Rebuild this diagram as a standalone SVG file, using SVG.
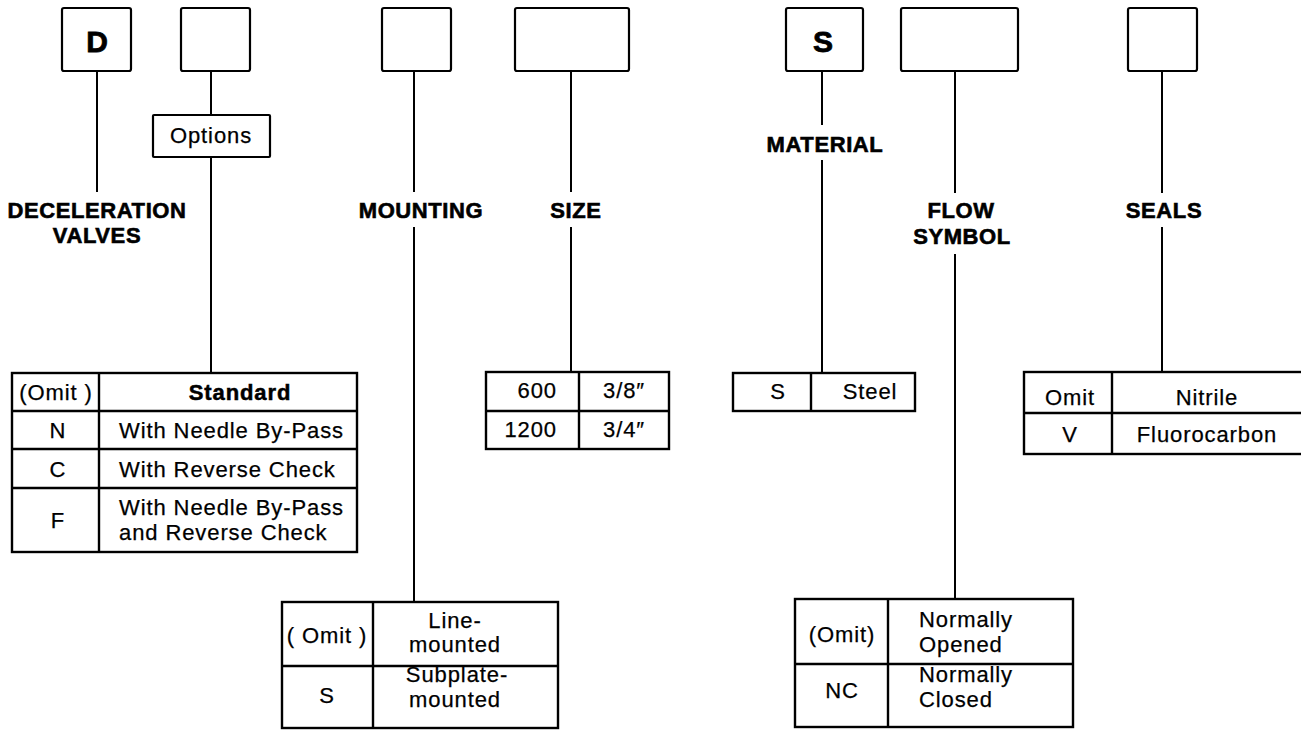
<svg xmlns="http://www.w3.org/2000/svg" width="1301" height="730" viewBox="0 0 1301 730">
<style>
.bx{fill:#fff;stroke:#000;stroke-width:2.2}
.ln{fill:none;stroke:#000;stroke-width:2}
.tb{fill:none;stroke:#000;stroke-width:2.4}
text{font-family:"Liberation Sans",Arial,sans-serif;fill:#000;stroke:#000;stroke-width:0.25}
.lab{font-size:22px;font-weight:bold;letter-spacing:0.6px;text-anchor:middle;stroke-width:0.6}
.big{font-size:30px;font-weight:bold;text-anchor:middle;stroke-width:0.8}
.t{font-size:22px;letter-spacing:0.9px}
.c{text-anchor:middle}
.e{text-anchor:end}
.b{font-weight:bold}
</style>
<rect width="1301" height="730" fill="#fff"/>
<g id="connectors">
<line class="ln" x1="97" y1="71" x2="97" y2="192"/>
<line class="ln" x1="211" y1="71" x2="211" y2="115"/>
<line class="ln" x1="211" y1="157" x2="211" y2="373"/>
<line class="ln" x1="414" y1="71" x2="414" y2="192"/>
<line class="ln" x1="414" y1="227" x2="414" y2="602"/>
<line class="ln" x1="571" y1="71" x2="571" y2="192"/>
<line class="ln" x1="571" y1="227" x2="571" y2="372"/>
<line class="ln" x1="822" y1="71" x2="822" y2="125"/>
<line class="ln" x1="822" y1="160" x2="822" y2="373"/>
<line class="ln" x1="955" y1="71" x2="955" y2="193"/>
<line class="ln" x1="955" y1="254" x2="955" y2="599"/>
<line class="ln" x1="1162" y1="71" x2="1162" y2="193"/>
<line class="ln" x1="1162" y1="227" x2="1162" y2="372"/>
</g>
<g id="box-d">
<rect class="bx" x="62" y="8" width="69" height="63" rx="2"/>
<text class="big" x="97" y="52">D</text>
</g>
<g id="box-options-code">
<rect class="bx" x="181" y="8" width="69" height="63" rx="2"/>
</g>
<g id="box-mounting">
<rect class="bx" x="382" y="8" width="69" height="63" rx="2"/>
</g>
<g id="box-size">
<rect class="bx" x="515" y="8" width="114" height="63" rx="2"/>
</g>
<g id="box-s">
<rect class="bx" x="786" y="8" width="77" height="63" rx="2"/>
<text class="big" x="823" y="52">S</text>
</g>
<g id="box-flow">
<rect class="bx" x="901" y="8" width="117" height="63" rx="2"/>
</g>
<g id="box-seals">
<rect class="bx" x="1128" y="8" width="69" height="63" rx="2"/>
</g>
<g id="options">
<rect class="bx" x="153" y="115" width="117" height="42" rx="1"/>
<text class="t c" x="211" y="143">Options</text>
</g>
<g id="labels">
<text class="lab" x="97" y="218">DECELERATION</text>
<text class="lab" x="97" y="243">VALVES</text>
<text class="lab" x="421" y="218">MOUNTING</text>
<text class="lab" x="576" y="218">SIZE</text>
<text class="lab" x="825" y="152">MATERIAL</text>
<text class="lab" x="961" y="218">FLOW</text>
<text class="lab" x="962" y="244">SYMBOL</text>
<text class="lab" x="1164" y="218">SEALS</text>
</g>
<g id="table-options">
<rect class="tb" x="12" y="373" width="345" height="179"/>
<line class="tb" x1="99" y1="373" x2="99" y2="552"/>
<line class="tb" x1="12" y1="411" x2="357" y2="411"/>
<line class="tb" x1="12" y1="449" x2="357" y2="449"/>
<line class="tb" x1="12" y1="488" x2="357" y2="488"/>
<text class="t c" x="56" y="400">(Omit )</text>
<text class="t c b" x="240" y="400" style="stroke-width:0.5">Standard</text>
<text class="t c" x="58" y="438">N</text>
<text class="t" x="119" y="438">With Needle By-Pass</text>
<text class="t c" x="58" y="477">C</text>
<text class="t" x="119" y="477">With Reverse Check</text>
<text class="t c" x="58" y="528">F</text>
<text class="t" x="119" y="515">With Needle By-Pass</text>
<text class="t" x="119" y="540">and Reverse Check</text>
</g>
<g id="table-size">
<rect class="tb" x="486" y="372" width="183" height="77"/>
<line class="tb" x1="579" y1="372" x2="579" y2="449"/>
<line class="tb" x1="486" y1="411" x2="669" y2="411"/>
<text class="t e" x="557" y="398">600</text>
<text class="t c" x="624" y="398">3/8″</text>
<text class="t e" x="557" y="437">1200</text>
<text class="t c" x="624" y="437">3/4″</text>
</g>
<g id="table-material">
<rect class="tb" x="733" y="373" width="182" height="38"/>
<line class="tb" x1="811" y1="373" x2="811" y2="411"/>
<text class="t c" x="778" y="399">S</text>
<text class="t c" x="870" y="399">Steel</text>
</g>
<g id="table-seals">
<rect class="tb" x="1024" y="372" width="290" height="82"/>
<line class="tb" x1="1112" y1="372" x2="1112" y2="454"/>
<line class="tb" x1="1024" y1="413" x2="1314" y2="413"/>
<text class="t c" x="1070" y="405">Omit</text>
<text class="t c" x="1207" y="405">Nitrile</text>
<text class="t c" x="1070" y="442">V</text>
<text class="t c" x="1207" y="442">Fluorocarbon</text>
</g>
<g id="table-mounting">
<rect class="tb" x="282" y="602" width="276" height="126"/>
<line class="tb" x1="373" y1="602" x2="373" y2="728"/>
<line class="tb" x1="282" y1="666" x2="558" y2="666"/>
<text class="t c" x="327" y="643">( Omit )</text>
<text class="t c" x="455" y="628">Line-</text>
<text class="t c" x="455" y="652">mounted</text>
<text class="t c" x="327" y="703">S</text>
<text class="t c" x="457" y="682">Subplate-</text>
<text class="t c" x="455" y="707">mounted</text>
</g>
<g id="table-flow">
<rect class="tb" x="795" y="599" width="278" height="128"/>
<line class="tb" x1="888" y1="599" x2="888" y2="727"/>
<line class="tb" x1="795" y1="664" x2="1073" y2="664"/>
<text class="t c" x="842" y="642">(Omit)</text>
<text class="t" x="919" y="627">Normally</text>
<text class="t" x="919" y="652">Opened</text>
<text class="t c" x="842" y="698">NC</text>
<text class="t" x="919" y="682">Normally</text>
<text class="t" x="919" y="707">Closed</text>
</g>
</svg>
